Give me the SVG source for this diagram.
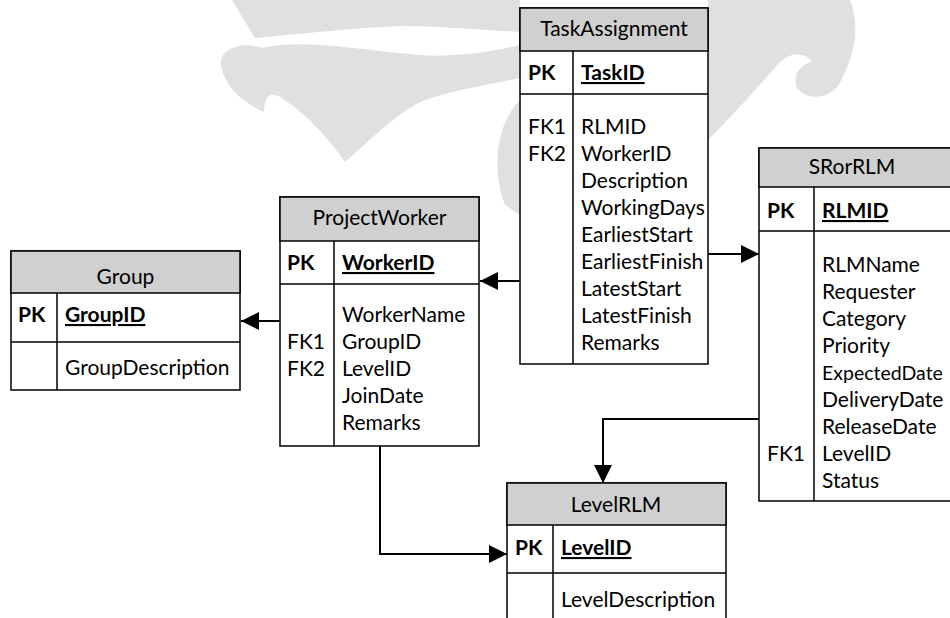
<svg xmlns="http://www.w3.org/2000/svg" width="950" height="618" viewBox="0 0 950 618">
<style>
.hdr{fill:#d0d0d0;stroke:#000;stroke-width:1.5}
.body{fill:#fff;stroke:#000;stroke-width:1.5}
.ln{stroke:#000;stroke-width:1.5;fill:none}
text{font-family:Lato,"Liberation Sans",sans-serif;font-size:21px;fill:#000}
.c{text-anchor:middle}
.b{font-weight:bold}
.u{text-decoration:underline}
.conn{stroke:#000;stroke-width:2;fill:none}
.wm{fill:#e0e0e0}
</style>
<defs>
<marker id="ah" markerUnits="userSpaceOnUse" markerWidth="20" markerHeight="18" refX="18" refY="9" orient="auto">
<path d="M0,0 L18,9 L0,18 Z" fill="#000"/>
</marker>
</defs>
<g id="watermark">
<path class="wm" d="M222,70 C215,50 240,40 262,48 C300,38 360,50 420,55 C460,58 500,50 520,45 L520,78 C480,86 445,92 420,102 C395,115 370,140 345,162 C330,140 305,112 280,97 C268,90 264,100 264,112 C250,106 228,92 222,70 Z"/>
<path class="wm" d="M232,0 L520,0 L520,32 C480,30 440,26 405,26 C360,27 300,34 255,38 C245,22 238,10 232,0 Z"/>
<path class="wm" d="M520,100 C498,122 490,165 505,205 L520,215 Z"/>
<path class="wm" d="M708,0 L850,0 C862,30 852,62 838,86 C826,100 806,100 797,88 C792,76 800,64 812,62 C806,52 790,52 780,62 C762,82 738,110 708,140 Z"/>
</g>
<g id="connectors">
<path class="conn" d="M520,281 L480,281" marker-end="url(#ah)"/>
<path class="conn" d="M280,321 L241,321" marker-end="url(#ah)"/>
<path class="conn" d="M708,254 L759,254" marker-end="url(#ah)"/>
<path class="conn" d="M380,446 L380,554 L507,554" marker-end="url(#ah)"/>
<path class="conn" d="M759,419 L603,419 L603,483" marker-end="url(#ah)"/>
</g>
<g id="Group">
<rect class="body" x="11" y="251" width="229" height="139"/>
<rect class="hdr" x="11" y="251" width="229" height="42"/>
<line class="ln" x1="11" y1="342" x2="240" y2="342"/>
<line class="ln" x1="57" y1="293" x2="57" y2="390"/>
<text class="c" x="125.5" y="284">Group</text>
<text class="b" x="18" y="322">PK</text>
<text class="b u" x="65" y="322">GroupID</text>
<text x="65" y="375">GroupDescription</text>
</g>
<g id="ProjectWorker">
<rect class="body" x="280" y="197" width="199" height="249"/>
<rect class="hdr" x="280" y="197" width="199" height="44"/>
<line class="ln" x1="280" y1="284" x2="479" y2="284"/>
<line class="ln" x1="334" y1="241" x2="334" y2="446"/>
<text class="c" x="379.5" y="225">ProjectWorker</text>
<text class="b" x="287" y="270">PK</text>
<text class="b u" x="342" y="270">WorkerID</text>
<text x="342" y="322">WorkerName</text>
<text x="287" y="349">FK1</text>
<text x="342" y="349">GroupID</text>
<text x="287" y="376">FK2</text>
<text x="342" y="376">LevelID</text>
<text x="342" y="403">JoinDate</text>
<text x="342" y="430">Remarks</text>
</g>
<g id="TaskAssignment">
<rect class="body" x="520" y="8" width="188" height="356"/>
<rect class="hdr" x="520" y="8" width="188" height="43"/>
<line class="ln" x1="520" y1="94" x2="708" y2="94"/>
<line class="ln" x1="573" y1="51" x2="573" y2="364"/>
<text class="c" x="614" y="36">TaskAssignment</text>
<text class="b" x="528" y="80">PK</text>
<text class="b u" x="581" y="80">TaskID</text>
<text x="528" y="134">FK1</text>
<text x="581" y="134">RLMID</text>
<text x="528" y="161">FK2</text>
<text x="581" y="161">WorkerID</text>
<text x="581" y="188">Description</text>
<text x="581" y="215">WorkingDays</text>
<text x="581" y="242">EarliestStart</text>
<text x="581" y="269">EarliestFinish</text>
<text x="581" y="296">LatestStart</text>
<text x="581" y="323">LatestFinish</text>
<text x="581" y="350">Remarks</text>
</g>
<g id="SRorRLM">
<rect class="body" x="759" y="148" width="200" height="353"/>
<rect class="hdr" x="759" y="148" width="200" height="39"/>
<line class="ln" x1="759" y1="231" x2="959" y2="231"/>
<line class="ln" x1="814" y1="187" x2="814" y2="501"/>
<text class="c" x="852" y="174">SRorRLM</text>
<text class="b" x="767" y="218">PK</text>
<text class="b u" x="822" y="218">RLMID</text>
<text x="822" y="272">RLMName</text>
<text x="822" y="299">Requester</text>
<text x="822" y="326">Category</text>
<text x="822" y="353">Priority</text>
<text x="822" y="380" style="font-size:19.5px">ExpectedDate</text>
<text x="822" y="407">DeliveryDate</text>
<text x="822" y="434">ReleaseDate</text>
<text x="767" y="461">FK1</text>
<text x="822" y="461">LevelID</text>
<text x="822" y="488">Status</text>
</g>
<g id="LevelRLM">
<rect class="body" x="507" y="483" width="219" height="150"/>
<rect class="hdr" x="507" y="483" width="219" height="42"/>
<line class="ln" x1="507" y1="573" x2="726" y2="573"/>
<line class="ln" x1="553" y1="525" x2="553" y2="633"/>
<text class="c" x="616" y="512">LevelRLM</text>
<text class="b" x="515" y="555">PK</text>
<text class="b u" x="561" y="555">LevelID</text>
<text x="561" y="607">LevelDescription</text>
</g>
</svg>
